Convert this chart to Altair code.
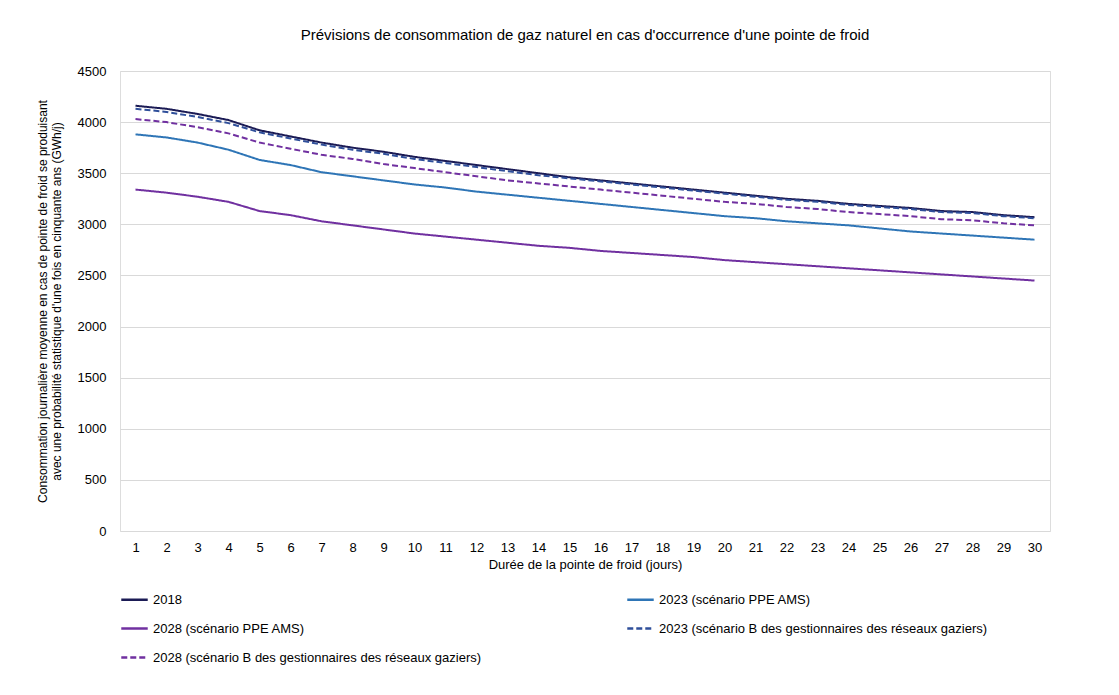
import altair as alt
import pandas as pd

days = list(range(1, 31))
s2018 = [4160,4130,4080,4020,3920,3860,3800,3750,3710,3660,3620,3580,3540,3500,3460,3430,3400,3370,3340,3310,3280,3250,3230,3200,3180,3160,3130,3120,3090,3070]
s2023b = [4130,4100,4050,3990,3900,3840,3780,3730,3690,3640,3600,3560,3520,3480,3450,3420,3390,3360,3330,3300,3270,3240,3220,3190,3170,3150,3120,3110,3080,3060]
s2028b = [4030,4000,3950,3890,3800,3740,3680,3640,3590,3550,3510,3470,3430,3400,3370,3340,3310,3280,3250,3220,3200,3170,3150,3120,3100,3080,3050,3040,3010,2990]
s2023 = [3880,3850,3800,3730,3630,3580,3510,3470,3430,3390,3360,3320,3290,3260,3230,3200,3170,3140,3110,3080,3060,3030,3010,2990,2960,2930,2910,2890,2870,2850]
s2028 = [3340,3310,3270,3220,3130,3090,3030,2990,2950,2910,2880,2850,2820,2790,2770,2740,2720,2700,2680,2650,2630,2610,2590,2570,2550,2530,2510,2490,2470,2450]

# order chosen so the 2-column legend (filled column by column) reads like the reference
names = ["2018", "2028 (scénario PPE AMS)",
         "2028 (scénario B des gestionnaires des réseaux gaziers)",
         "2023 (scénario PPE AMS)",
         "2023 (scénario B des gestionnaires des réseaux gaziers)"]
series = [s2018, s2028, s2028b, s2023, s2023b]
colors = ["#1b1b55", "#7030a0", "#7030a0", "#2e75b6", "#2f4f9a"]
dashes = [[1, 0], [1, 0], [6, 3], [1, 0], [6, 3]]

rows = []
for n, s in zip(names, series):
    for d, v in zip(days, s):
        rows.append({"jour": d, "valeur": v, "serie": n})
df = pd.DataFrame(rows)

chart = alt.Chart(df).mark_line(strokeWidth=2).encode(
    x=alt.X("jour:O", title="Durée de la pointe de froid (jours)",
            axis=alt.Axis(labelAngle=0, domain=False, ticks=False, grid=False, labelPadding=10,
                          titleFontWeight="normal", labelFontSize=13, titleFontSize=13, titlePadding=4)),
    y=alt.Y("valeur:Q", scale=alt.Scale(domain=[0, 4500]),
            title=["Consommation journalière moyenne en cas de pointe de froid se produisant",
                   "avec une probabilité statistique d'une fois en cinquante ans (GWh/j)"],
            axis=alt.Axis(values=list(range(0, 5000, 500)), format="d", domain=False, ticks=False,
                          gridColor="#d9d9d9", labelPadding=14, titleFontWeight="normal",
                          labelFontSize=13, titleFontSize=12, titlePadding=14)),
    color=alt.Color("serie:N", sort=names, scale=alt.Scale(domain=names, range=colors),
                    legend=alt.Legend(title=None, orient="bottom", columns=2, columnPadding=140,
                                      symbolType="stroke", symbolStrokeWidth=2.5, symbolSize=700,
                                      labelFontSize=13, labelLimit=600, rowPadding=7,
                                      direction="vertical", offset=14)),
    strokeDash=alt.StrokeDash("serie:N", sort=names, scale=alt.Scale(domain=names, range=dashes), legend=None),
    order="jour:O",
).properties(
    width=930, height=460,
    padding={"left": 28, "top": 20, "right": 22, "bottom": 5},
    title=alt.Title("Prévisions de consommation de gaz naturel en cas d'occurrence d'une pointe de froid",
                    fontSize=15, fontWeight="normal", offset=22),
).configure_view(strokeWidth=0).configure_axis(
    labelColor="#222", titleColor="#222"
).configure(font="Liberation Sans", background="white")

chart.save("out.html", embed_options={"renderer": "svg", "actions": False})
